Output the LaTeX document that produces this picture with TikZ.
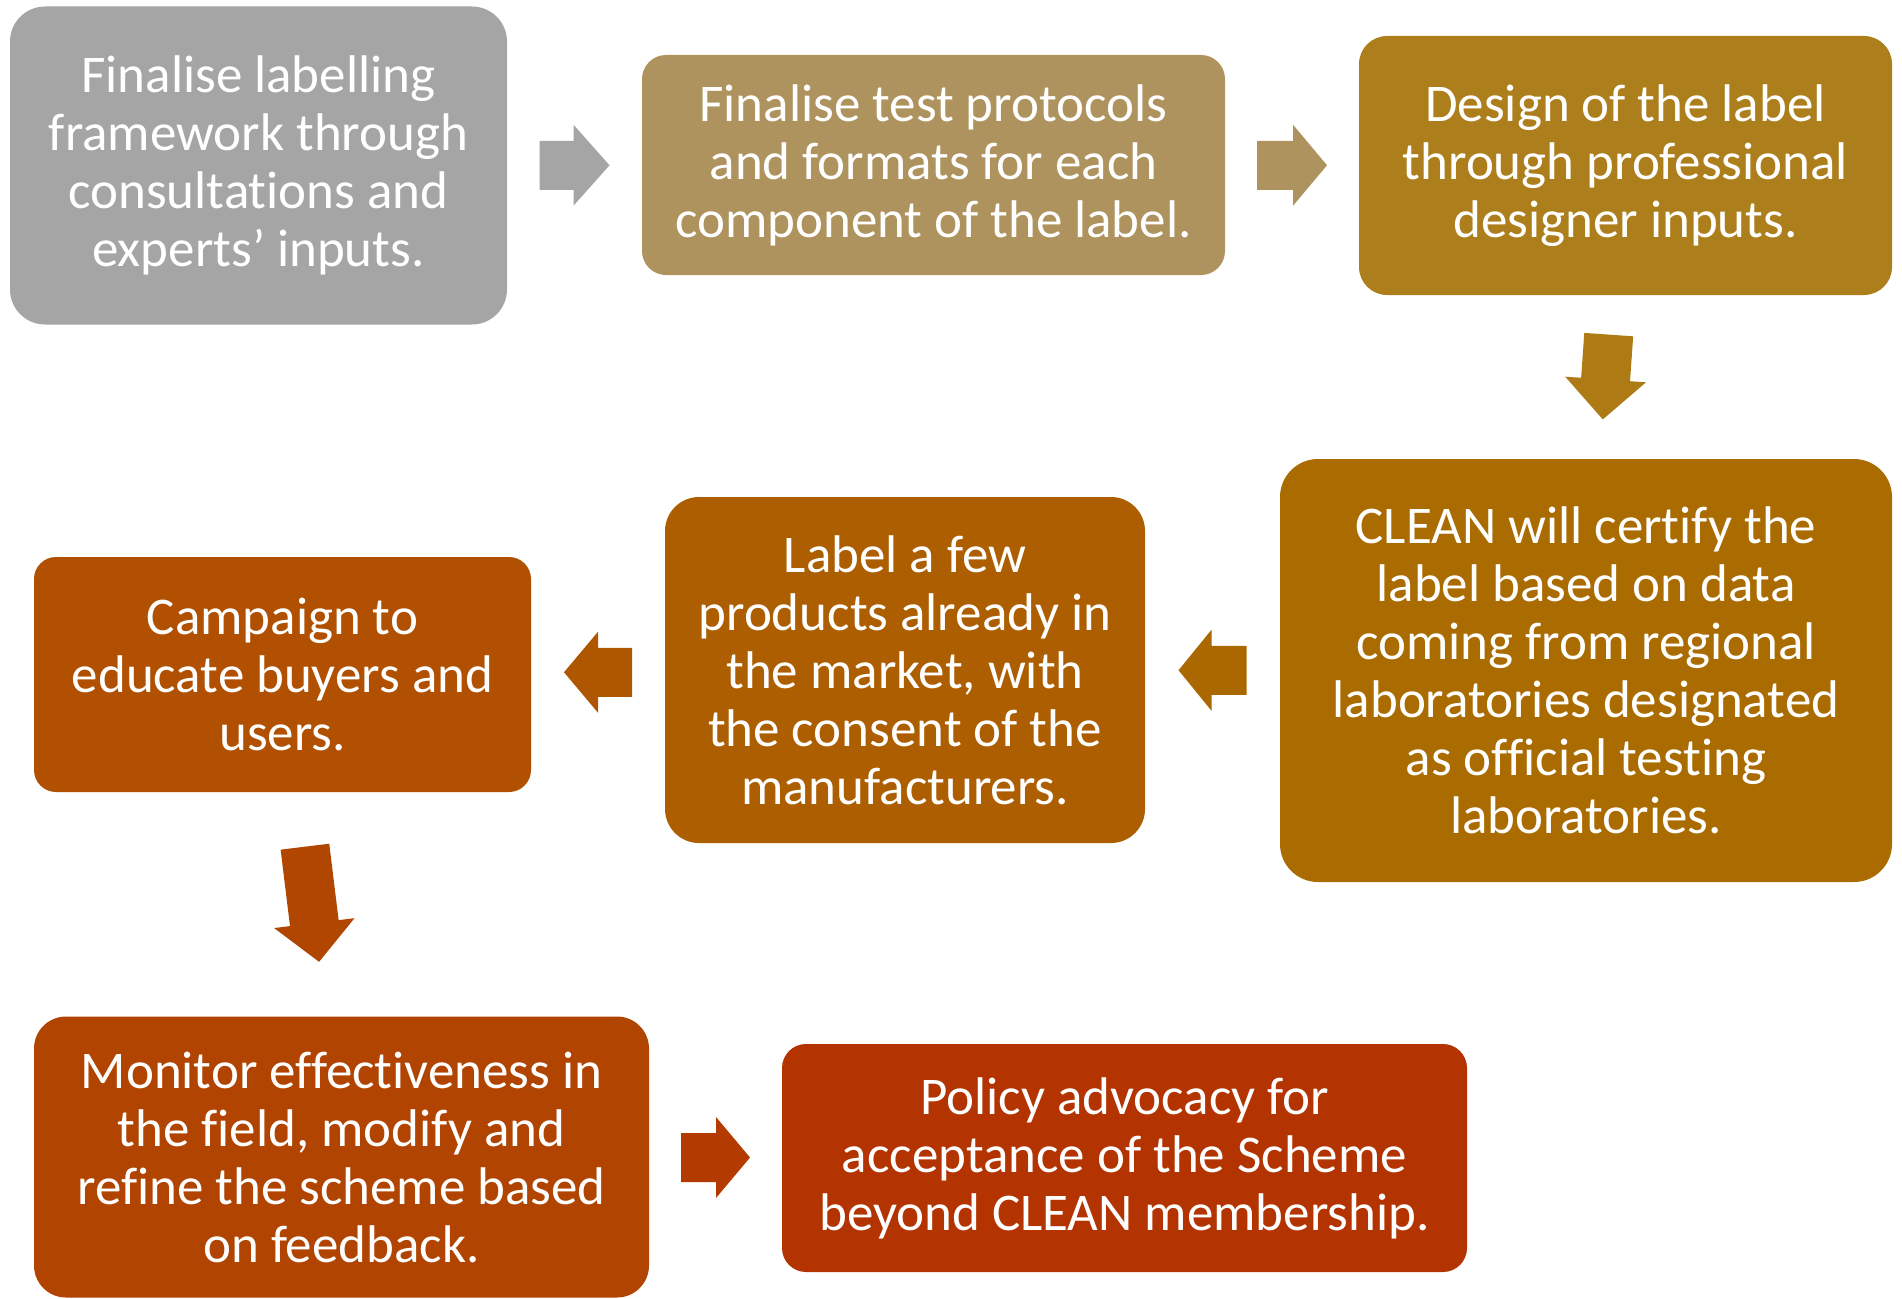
\documentclass[tikz,border=0pt]{standalone}
\usepackage{fontspec}
\setmainfont{Carlito}[Ligatures=NoCommon]
\usetikzlibrary{calc}

% step box fills
\definecolor{cgray}{HTML}{A5A5A5}
\definecolor{ctan}{HTML}{AE935E}
\definecolor{cgold}{HTML}{AD7F1C}
\definecolor{cochre}{HTML}{AA6C00}
\definecolor{camber}{HTML}{AC5E00}
\definecolor{crust}{HTML}{B05000}
\definecolor{cbrick}{HTML}{B04400}
\definecolor{cred}{HTML}{B33400}
% block arrow fills
\definecolor{agold}{HTML}{AD7A14}
\definecolor{aochre}{HTML}{AB6800}
\definecolor{aamber}{HTML}{AF5600}
\definecolor{arust}{HTML}{B04600}
\definecolor{ared}{HTML}{B33A00}

\tikzset{
  stepbox/.style={rectangle, text=white, align=center, inner sep=0pt,
    font=\fontsize{53}{58}\selectfont},
  % block arrow centred on its anchor, pointing along local x;
  % #1 = total length, #2 = head length
  pics/blockarrow/.style args={#1/#2}{code={
    \path[pic actions]
      (-#1/2,-24.5) -- (#1/2-#2,-24.5) -- (#1/2-#2,-40.5) -- (#1/2,0)
      -- (#1/2-#2,40.5) -- (#1/2-#2,24.5) -- (-#1/2,24.5) -- cycle;
  }}
}

\begin{document}
\begin{tikzpicture}[x=1pt, y=-1pt]
\useasboundingbox (0,0) rectangle (1902,1298);

% steps
\node[stepbox, fill=cgray, minimum width=497, minimum height=318, rounded corners=35]
  (b1) at (258.5,165.5) {Finalise labelling\\framework through\\consultations and\\experts’ inputs.};
\node[stepbox, fill=ctan, minimum width=583, minimum height=220, rounded corners=24]
  (b2) at (933.5,165) {Finalise test protocols\\and formats for each\\component of the label.};
\node[stepbox, fill=cgold, minimum width=533, minimum height=259, rounded corners=28]
  (b3) at (1625.5,165.5) {Design of the label\\through professional\\designer inputs.};
\node[stepbox, fill=cochre, minimum width=612, minimum height=423, rounded corners=38]
  (b4) at (1586,670.5) {CLEAN will certify the\\label based on data\\coming from regional\\laboratories designated\\as official testing\\laboratories.};
\node[stepbox, fill=camber, minimum width=480, minimum height=346, rounded corners=34]
  (b5) at (905,670) {Label a few\\products already in\\the market, with\\the consent of the\\manufacturers.};
\node[stepbox, fill=crust, minimum width=497, minimum height=235, rounded corners=22]
  (b6) at (282.5,674.5) {Campaign to\\educate buyers and\\users.};
\node[stepbox, fill=cbrick, minimum width=615, minimum height=281, rounded corners=32]
  (b7) at (341.5,1157) {Monitor effectiveness in\\the field, modify and\\refine the scheme based\\on feedback.};
\node[stepbox, fill=cred, minimum width=685, minimum height=228, rounded corners=24]
  (b8) at (1124.5,1158) {Policy advocacy for\\acceptance of the Scheme\\beyond CLEAN membership.};

% connecting block arrows
\pic[fill=cgray]              at ($(b1.east)!0.5!(b2.west)$)   {blockarrow={70/36}};
\pic[fill=ctan]               at ($(b2.east)!0.5!(b3.west)$)   {blockarrow={70/34}};
\pic[fill=agold, rotate=-94]  at ($(b3.south)!0.5!(b4.north)$) {blockarrow={85/40}};
\pic[fill=aochre, rotate=180] at ($(b4.west)!0.5!(b5.east)$)   {blockarrow={68/33}};
\pic[fill=aamber, rotate=180] at ($(b5.west)!0.5!(b6.east)$)   {blockarrow={68/34}};
\pic[fill=arust, rotate=-83]  at ($(b6.south)!0.5!(b7.north)$) {blockarrow={116/39}};
\pic[fill=ared]               at ($(b7.east)!0.5!(b8.west)$)   {blockarrow={69/34}};
\end{tikzpicture}
\end{document}
